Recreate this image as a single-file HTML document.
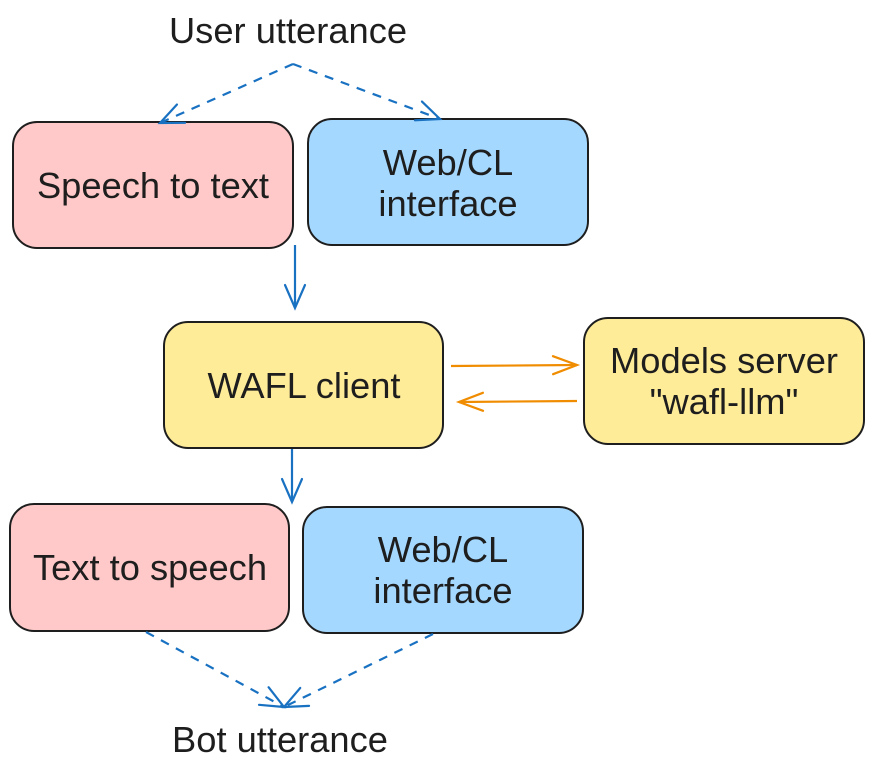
<!DOCTYPE html>
<html><head><meta charset="utf-8"><style>
html,body{margin:0;padding:0;background:#fff;}
svg text{font-family:"Liberation Sans",sans-serif;font-size:36.3px;fill:#1e1e1e;text-anchor:middle;}
</style></head><body>
<svg width="873" height="770" viewBox="0 0 873 770" xmlns="http://www.w3.org/2000/svg">
<defs>
<marker id="mb" markerWidth="34" markerHeight="34" refX="0" refY="0" viewBox="-28 -17 34 34" orient="auto" markerUnits="userSpaceOnUse">
<path d="M-23,-10 L0,0 L-23,10" fill="none" stroke="#1971c2" stroke-width="2.2" stroke-linecap="round"/></marker>
<marker id="mo" markerWidth="34" markerHeight="34" refX="0" refY="0" viewBox="-28 -17 34 34" orient="auto" markerUnits="userSpaceOnUse">
<path d="M-24,-9 L0,0 L-24,9" fill="none" stroke="#f08c00" stroke-width="2.2" stroke-linecap="round"/></marker>
</defs>
<g stroke="#1e1e1e" stroke-width="2">
<rect x="13" y="122" width="280" height="126" rx="24" fill="#ffc9c9"/>
<rect x="308" y="119" width="280" height="126" rx="24" fill="#a5d8ff"/>
<rect x="164" y="322" width="279" height="126" rx="24" fill="#ffec99"/>
<rect x="584" y="318" width="280" height="126" rx="24" fill="#ffec99"/>
<rect x="10" y="504" width="279" height="127" rx="24" fill="#ffc9c9"/>
<rect x="303" y="507" width="280" height="126" rx="24" fill="#a5d8ff"/>
</g>
<g fill="none" stroke="#1971c2" stroke-width="2.2">
<path d="M293,64 L160,123" stroke-dasharray="9,8" marker-end="url(#mb)"/>
<path d="M293,64 L440,119" stroke-dasharray="9,8" marker-end="url(#mb)"/>
<path d="M295,245 L295,308" marker-end="url(#mb)"/>
<path d="M292,449 L292,502" marker-end="url(#mb)"/>
<path d="M146,632 L284,707" stroke-dasharray="9,8" marker-end="url(#mb)"/>
<path d="M433,634 L284,707" stroke-dasharray="9,8" marker-end="url(#mb)"/>
</g>
<g fill="none" stroke="#f08c00" stroke-width="2.2">
<path d="M451,366 L577,365" marker-end="url(#mo)"/>
<path d="M577,401 L459,402" marker-end="url(#mo)"/>
</g>
<text x="288" y="43">User utterance</text>
<text x="153" y="198">Speech to text</text>
<text x="448" y="175">Web/CL</text>
<text x="448" y="216">interface</text>
<text x="304" y="398">WAFL client</text>
<text x="724" y="373">Models server</text>
<text x="724" y="414">"wafl-llm"</text>
<text x="150" y="580">Text to speech</text>
<text x="443" y="562">Web/CL</text>
<text x="443" y="603">interface</text>
<text x="280" y="752">Bot utterance</text>
</svg>
</body></html>
